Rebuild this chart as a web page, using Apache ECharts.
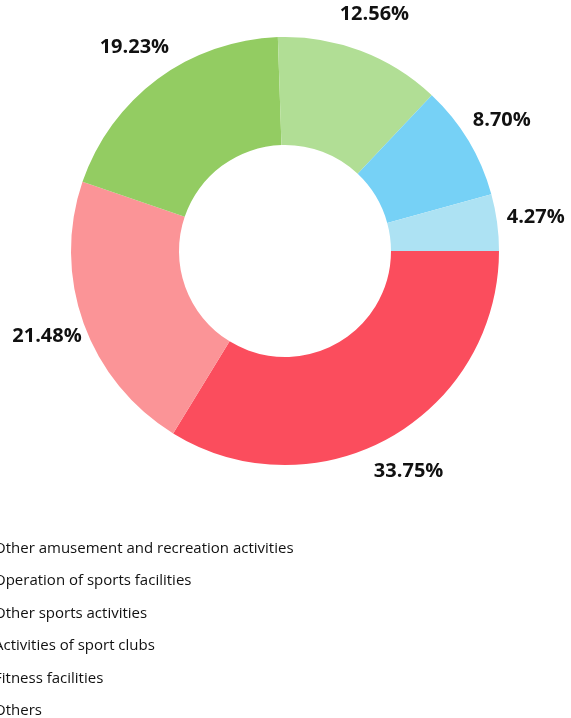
<!DOCTYPE html>
<html>
<head>
<meta charset="utf-8">
<script src="https://cdn.jsdelivr.net/npm/echarts@6/dist/echarts.min.js"></script>
<style>
html, body { margin: 0; padding: 0; background: #fff; }
#chart { width: 571px; height: 718px; }
</style>
</head>
<body>
<div id="chart"></div>
<script>
const categories = [
	'Other amusement and recreation activities',
	'Operation of sports facilities',
	'Other sports activities',
	'Activities of sport clubs',
	'Fitness facilities',
	'Others'
];
const shares = [33.75, 21.48, 19.23, 12.56, 8.70, 4.27];
const colors = ['#fb4d5d', '#fb9497', '#93cc62', '#b1de95', '#76d1f6', '#ade2f3'];

const chart = echarts.init(document.getElementById('chart'));

const ringData = categories.map((name, i) => ({
	name: name,
	value: shares[i],
	itemStyle: { color: colors[i] }
}));

// invisible outer ring, only used to put the labels centred on the mid angle
const labelData = categories.map((name, i) => ({
	name: name,
	value: shares[i],
	itemStyle: { color: 'rgba(0,0,0,0)' }
}));

chart.setOption({
	animation: false,
	color: colors,
	legend: {
		orient: 'vertical',
		left: -36,
		top: 541,
		height: 200,
		padding: 0,
		itemWidth: 25,
		itemHeight: 14,
		itemGap: 17.5,
		icon: 'rect',
		data: categories,
		textStyle: {
			fontFamily: 'Open Sans',
			fontSize: 15,
			color: '#111'
		}
	},
	series: [
		{
			type: 'pie',
			center: [285, 251],
			radius: [106, 214],
			startAngle: 0,
			clockwise: true,
			label: { show: false },
			labelLine: { show: false },
			emphasis: { disabled: true },
			data: ringData
		},
		{
			type: 'pie',
			center: [285, 251],
			radius: [235, 265],
			startAngle: 0,
			clockwise: true,
			silent: true,
			emphasis: { disabled: true },
			label: {
				show: true,
				position: 'inside',
				formatter: p => p.value.toFixed(2) + '%',
				fontFamily: 'Open Sans',
				fontWeight: 'bold',
				fontSize: 20,
				color: '#111'
			},
			labelLine: { show: false },
			data: labelData
		}
	]
});
</script>
</body>
</html>
